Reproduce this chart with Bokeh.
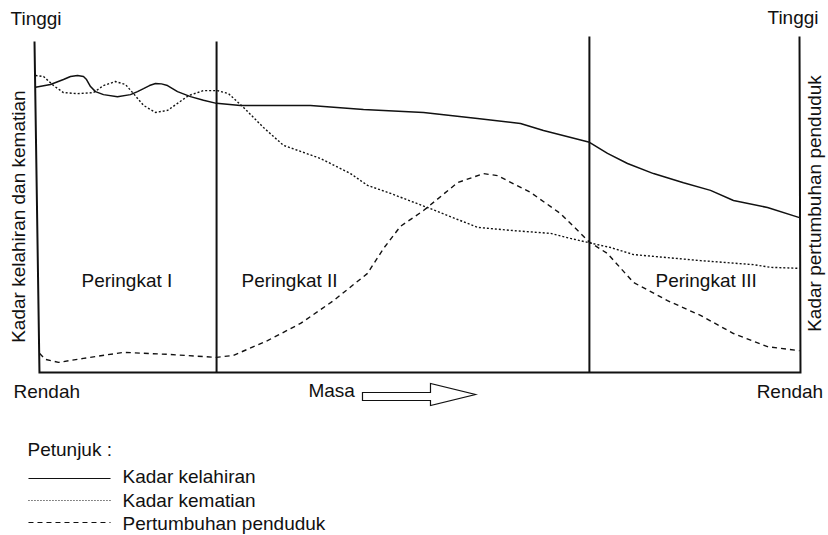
import math
from bokeh.plotting import figure
from bokeh.models import Range1d, Label
from bokeh.embed import file_html
from bokeh.resources import INLINE

# ---------------- data (chart units: time 0-100, level 0-100) ----------------
birth_x = [0, 1.96, 3.66, 4.58, 5.50, 6.28, 6.68, 7.20, 7.85, 8.90, 10.73, 12.43, 13.35,
           14.14, 14.92, 15.71, 16.49, 17.28, 18.59, 20.29, 21.99, 23.69, 26.83, 35.99,
           42.93, 50.79, 57.85, 63.48, 66.49, 72.51, 74.87, 77.49, 80.89, 84.82, 88.35,
           91.36, 95.81, 100.0]
birth_y = [84.9, 85.7, 87.2, 88.1, 88.4, 88.1, 87.2, 85.1, 83.6, 82.7, 82.1, 82.7, 83.6,
           84.5, 85.4, 86.0, 85.9, 85.4, 83.6, 82.1, 81.0, 80.1, 79.5, 79.5,
           78.3, 77.4, 75.6, 74.1, 72.0, 68.5, 65.2, 62.2, 59.2, 56.5, 54.2,
           51.2, 49.1, 46.1]

death_x = [0, 1.05, 2.36, 3.66, 5.50, 7.59, 8.90, 10.47, 11.78, 12.83, 14.14, 15.71, 17.28,
           18.59, 20.03, 21.99, 23.82, 25.26, 27.23, 29.84, 32.46, 37.30, 41.23, 43.46,
           46.47, 51.31, 57.85, 62.17, 67.41, 70.03, 72.51, 75.26, 78.27, 87.04, 93.98,
           96.20, 100.0]
death_y = [88.4, 88.1, 85.4, 83.3, 83.0, 83.3, 85.4, 86.6, 85.7, 83.0, 79.5, 77.4, 78.0,
           80.1, 82.4, 83.9, 83.9, 83.0, 78.9, 72.9, 67.6, 63.7, 59.2, 55.7,
           53.3, 49.1, 43.2, 42.3, 41.4, 39.9, 38.6, 37.2, 35.1, 33.3, 32.1,
           31.3, 31.0]

growth_x = [0.52, 1.31, 3.01, 6.28, 11.52, 17.28, 23.69, 25.92, 30.37, 34.69, 39.01, 43.46,
            45.55, 47.77, 50.79, 55.24, 58.64, 60.47, 64.79, 68.72, 72.51, 74.87, 78.27,
            82.72, 87.04, 91.36, 95.81, 100.0]
growth_y = [5.7, 3.9, 3.0, 4.2, 6.0, 5.4, 4.5, 5.1, 9.5, 14.6, 21.4, 29.5,
            36.9, 43.5, 48.2, 56.5, 59.2, 58.6, 53.6, 47.3, 38.8, 35.4, 26.8,
            21.4, 17.0, 11.6, 7.7, 6.5]

stage_bounds = [23.7, 72.5]
stage_labels = ["Peringkat I", "Peringkat II", "Peringkat III"]
legend_labels = ["Kadar kelahiran", "Kadar kematian", "Pertumbuhan penduduk"]
legend_dashes = ["solid", "1 2", "5 4"]
line_dashes = ["solid", "2 2", "5 4"]

# ---------------- layout ----------------
W, H = 828, 535
PX0, SX = 35.0, 7.64     # canvas pixel of time 0, pixels per unit
PY0, SY = 372.0, 3.36    # canvas pixel of level 0, pixels per unit
FONT = "Liberation Sans"
FS = "19px"
INK = "#111111"
TDY = 7.0 / SY           # lift of horizontal texts (chart units)
TDX = 7.0 / SX           # shift of rotated texts (chart units)

p = figure(width=W, height=H,
           x_range=Range1d((0 - PX0) / SX, (W - PX0) / SX),
           y_range=Range1d((PY0 - H) / SY, PY0 / SY),
           output_backend="svg", toolbar_location=None, min_border=0,
           x_axis_type=None, y_axis_type=None)
p.outline_line_color = None
p.grid.visible = False
p.background_fill_color = "white"
p.border_fill_color = "white"

# frame: slanted left axis, bottom axis, right axis
p.line([-0.13, 0.52, 100.13, 100.0], [98.5, 0, 0, 100], line_color=INK, line_width=2,
       line_join="miter")
# stage dividers
p.segment(x0=stage_bounds, y0=[0, 0], x1=stage_bounds, y1=[98.5, 100],
          line_color=INK, line_width=2)

# curves
p.line(birth_x, birth_y, line_color=INK, line_width=1.5, line_dash=line_dashes[0])
p.line(death_x, death_y, line_color=INK, line_width=1.4, line_dash=line_dashes[1])
p.line(growth_x, growth_y, line_color=INK, line_width=1.4, line_dash=line_dashes[2])

# hollow arrow next to "Masa"
ax = [42.80, 51.70, 51.70, 57.59, 51.70, 51.70, 42.80]
ay = [-5.95, -5.95, -3.27, -6.55, -9.82, -8.33, -8.33]
p.patch(ax, ay, fill_color="white", line_color=INK, line_width=1.2, line_join="miter")

def lab(x, y, text, align="left", angle=0.0):
    if angle:
        x = x - TDX
    else:
        y = y + TDY
    p.add_layout(Label(x=x, y=y, text=text, text_font=FONT, text_font_size=FS,
                       text_color=INK, text_align=align, text_baseline="alphabetic",
                       angle=angle))

lab(-3.27, 103.3, "Tinggi")
lab(95.81, 103.6, "Tinggi")
lab(-2.88, -7.74, "Rendah")
lab(103.1, -7.74, "Rendah", align="right")
lab(35.73, -7.44, "Masa")
for sx, name in zip([6.02, 26.96, 81.15], stage_labels):
    lab(sx, 25.3, name)
lab(-1.31, 46.4, "Kadar kelahiran dan kematian", align="center", angle=math.pi / 2)
lab(102.85, 50.3, "Kadar pertumbuhan penduduk", align="center", angle=math.pi / 2)

# legend
lab(-1.05, -25.0, "Petunjuk :")
leg_line_y = [-31.55, -38.1, -44.64]
leg_text_y = [-33.04, -40.18, -47.02]
for ly, ty, name, dash in zip(leg_line_y, leg_text_y, legend_labels, legend_dashes):
    p.line([-0.92, 9.82], [ly, ly], line_color=INK, line_width=1.2, line_dash=dash)
    lab(11.39, ty, name)

open("out.html", "w").write(file_html(p, INLINE))
